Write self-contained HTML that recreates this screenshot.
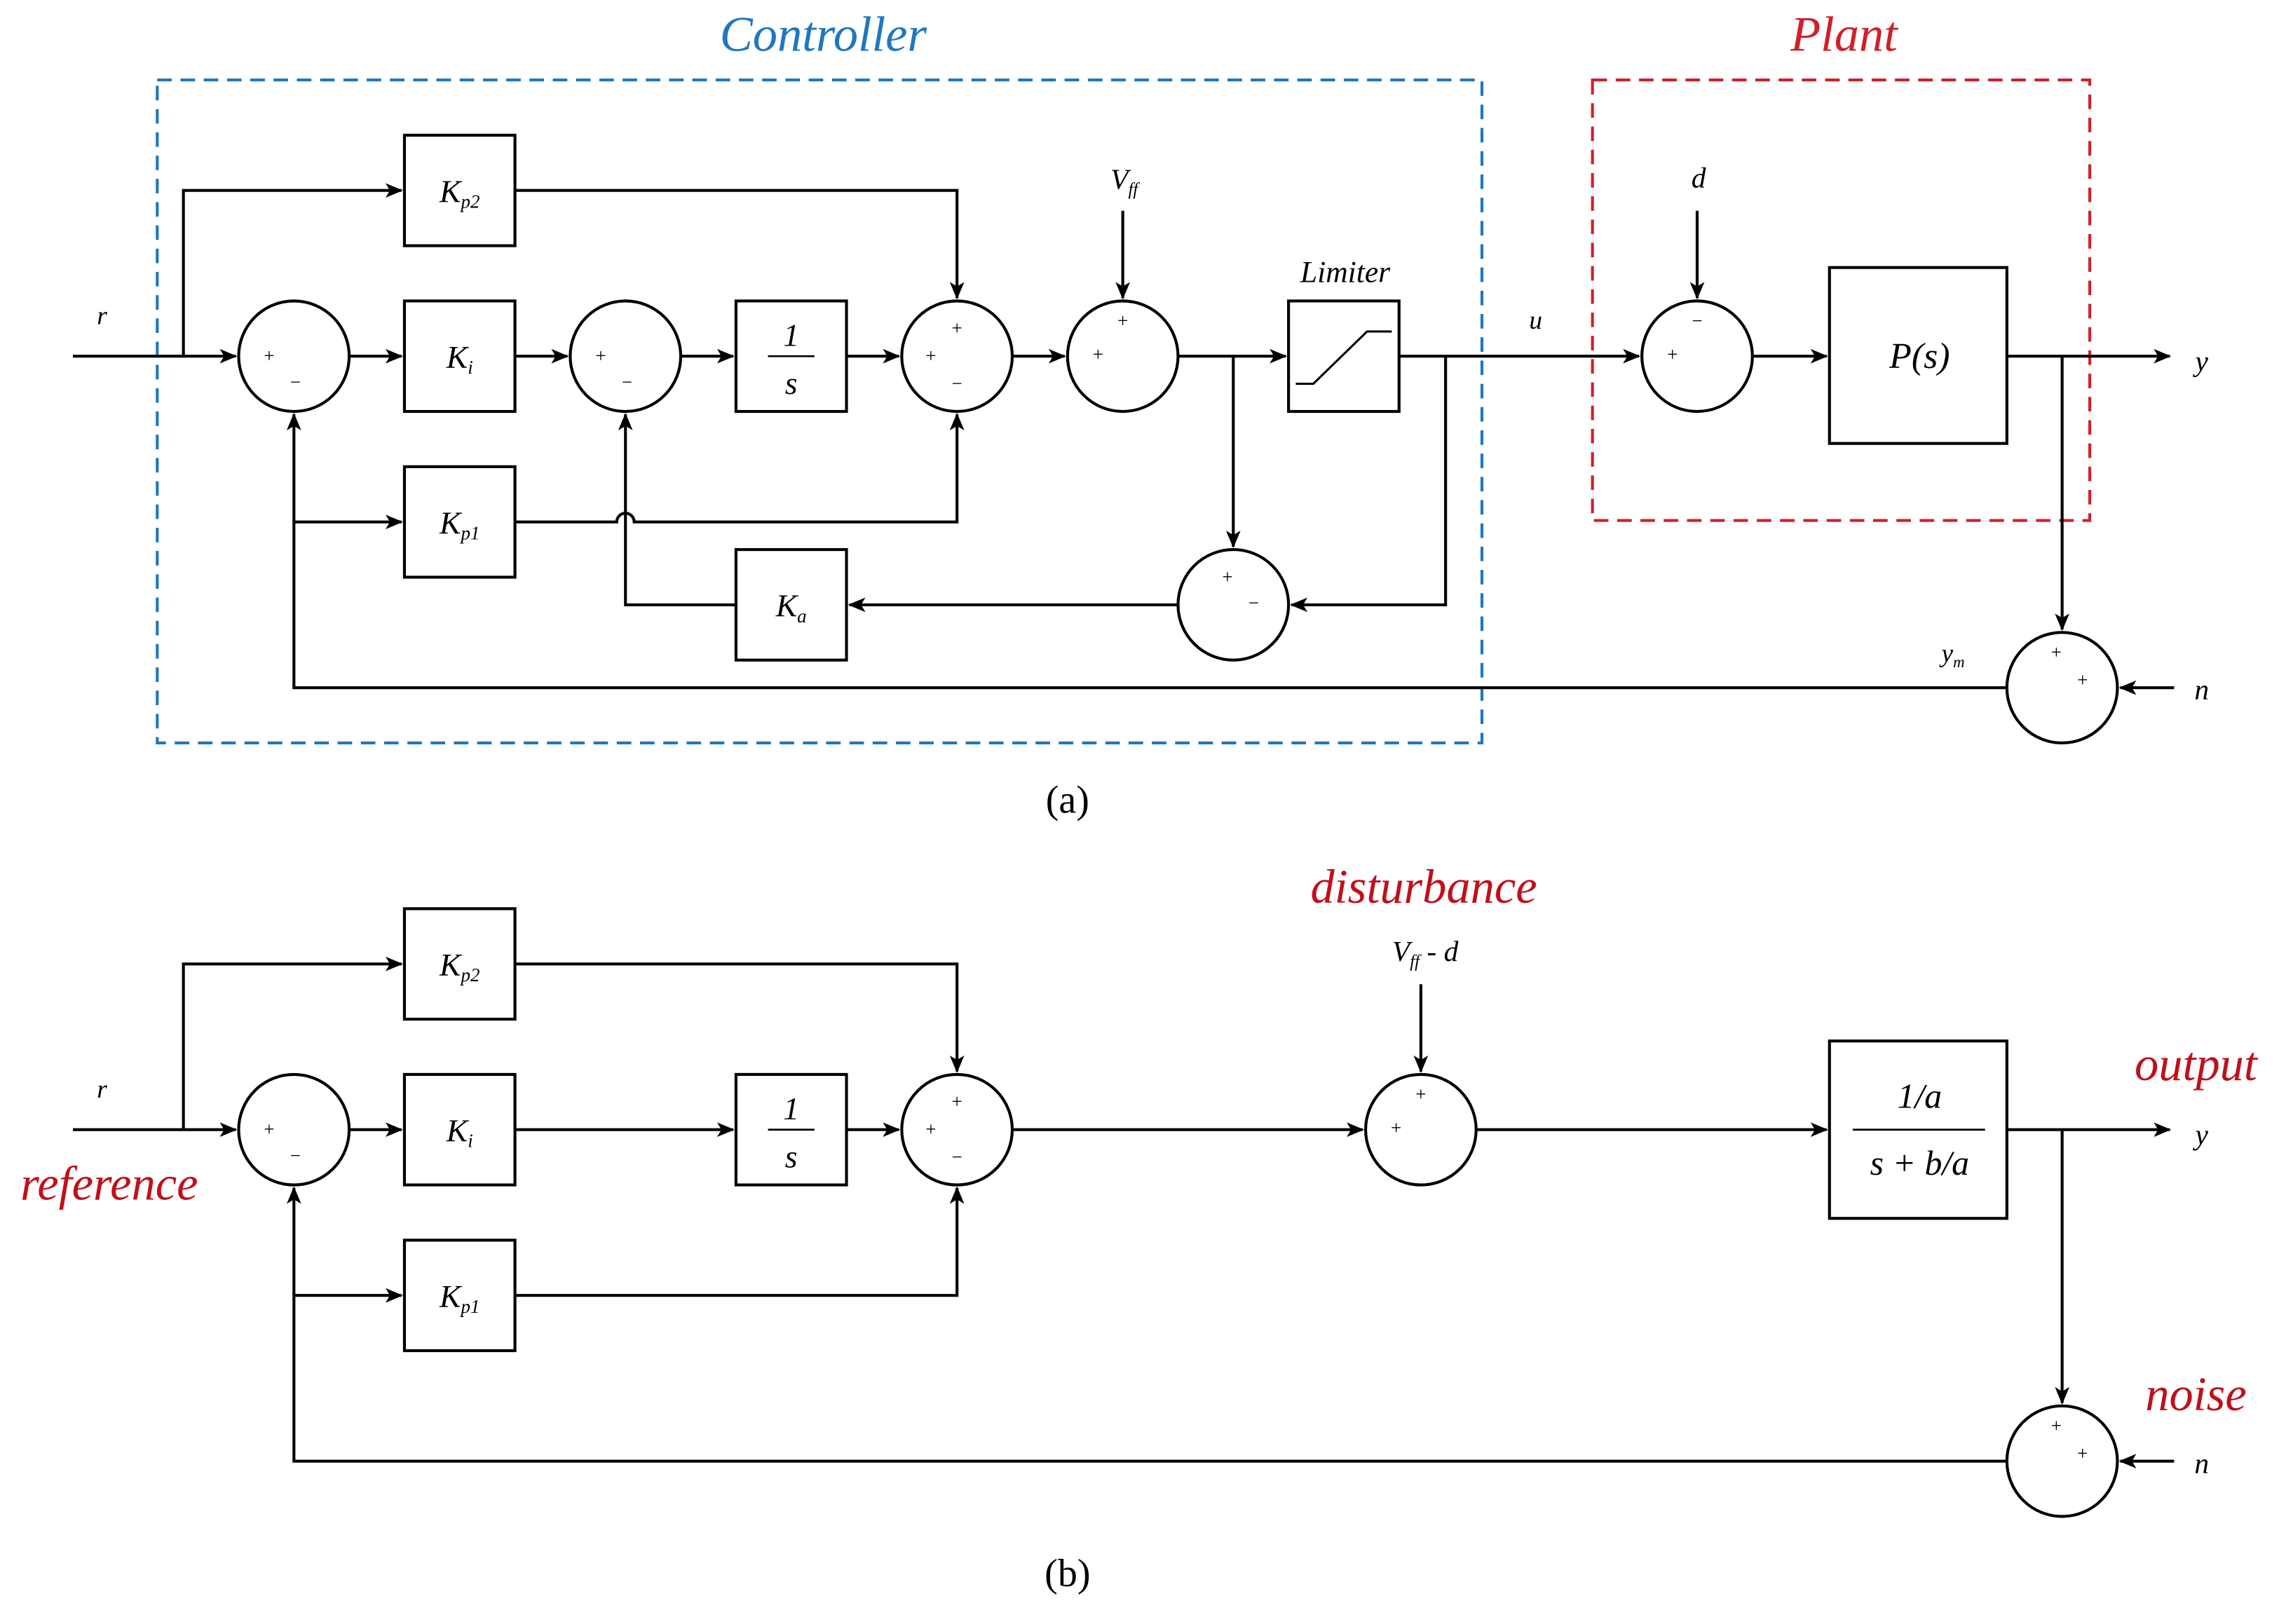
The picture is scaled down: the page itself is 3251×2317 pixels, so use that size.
<!DOCTYPE html>
<html><head><meta charset="utf-8"><style>
html,body{margin:0;padding:0;background:#fff}
svg{display:block}
text{font-family:"Liberation Serif",serif;fill:#000}
.it{font-style:italic}
</style></head><body>
<svg width="3251" height="2317" viewBox="0 0 1567 1117" xmlns="http://www.w3.org/2000/svg">
<defs>
<marker id="a" viewBox="0 0 12 10" refX="11" refY="5" markerWidth="12" markerHeight="10" markerUnits="userSpaceOnUse" orient="auto">
<path d="M0,0 L12,5 L0,10 L3,5 Z" fill="#000"/></marker>
</defs>
<g fill="none" stroke="#000" stroke-width="2">
<!-- (a) -->
<rect x="108" y="55" width="911" height="456" stroke="#1f77c0" stroke-dasharray="10,6"/>
<rect x="1095" y="55" width="342" height="303" stroke="#d0202a" stroke-dasharray="10,6"/>
<rect x="278" y="93" width="76" height="76"/>
<rect x="278" y="207" width="76" height="76"/>
<rect x="506" y="207" width="76" height="76"/>
<rect x="886" y="207" width="76" height="76"/>
<rect x="278" y="321" width="76" height="76"/>
<rect x="506" y="378" width="76" height="76"/>
<rect x="1258" y="184" width="122" height="121"/>
<circle cx="202" cy="245" r="38"/>
<circle cx="430" cy="245" r="38"/>
<circle cx="658" cy="245" r="38"/>
<circle cx="772" cy="245" r="38"/>
<circle cx="848" cy="416" r="38"/>
<circle cx="1167" cy="245" r="38"/>
<circle cx="1418" cy="473" r="38"/>
<path d="M891,264 H903 L940,228 H957" stroke-width="1.5"/>
<path d="M50,245 H162" marker-end="url(#a)"/>
<path d="M126,245 V131 H276" marker-end="url(#a)"/>
<path d="M240,245 H276" marker-end="url(#a)"/>
<path d="M354,245 H390" marker-end="url(#a)"/>
<path d="M468,245 H504" marker-end="url(#a)"/>
<path d="M582,245 H618" marker-end="url(#a)"/>
<path d="M696,245 H732" marker-end="url(#a)"/>
<path d="M810,245 H884" marker-end="url(#a)"/>
<path d="M848,245 V376" marker-end="url(#a)"/>
<path d="M962,245 H1127" marker-end="url(#a)"/>
<path d="M994,245 V416 H888" marker-end="url(#a)"/>
<path d="M810,416 H584" marker-end="url(#a)"/>
<path d="M506,416 H430 V285" marker-end="url(#a)"/>
<path d="M354,131 H658 V205" marker-end="url(#a)"/>
<path d="M354,359 H424 A6,6 0 0 1 436,359 H658 V285" marker-end="url(#a)"/>
<path d="M202,359 H276" marker-end="url(#a)"/>
<path d="M772,145 V205" marker-end="url(#a)"/>
<path d="M1167,145 V205" marker-end="url(#a)"/>
<path d="M1205,245 H1256" marker-end="url(#a)"/>
<path d="M1380,245 H1492" marker-end="url(#a)"/>
<path d="M1418,245 V433" marker-end="url(#a)"/>
<path d="M1495,473 H1458" marker-end="url(#a)"/>
<path d="M1380,473 H202 V285" marker-end="url(#a)"/>
<!-- (b) -->
<rect x="278" y="625" width="76" height="76"/>
<rect x="278" y="739" width="76" height="76"/>
<rect x="506" y="739" width="76" height="76"/>
<rect x="278" y="853" width="76" height="76"/>
<rect x="1258" y="716" width="122" height="122"/>
<circle cx="202" cy="777" r="38"/>
<circle cx="658" cy="777" r="38"/>
<circle cx="977" cy="777" r="38"/>
<circle cx="1418" cy="1005" r="38"/>
<path d="M50,777 H162" marker-end="url(#a)"/>
<path d="M126,777 V663 H276" marker-end="url(#a)"/>
<path d="M240,777 H276" marker-end="url(#a)"/>
<path d="M354,777 H504" marker-end="url(#a)"/>
<path d="M582,777 H618" marker-end="url(#a)"/>
<path d="M696,777 H937" marker-end="url(#a)"/>
<path d="M1015,777 H1256" marker-end="url(#a)"/>
<path d="M354,663 H658 V737" marker-end="url(#a)"/>
<path d="M354,891 H658 V817" marker-end="url(#a)"/>
<path d="M202,891 H276" marker-end="url(#a)"/>
<path d="M977,677 V737" marker-end="url(#a)"/>
<path d="M1380,777 H1492" marker-end="url(#a)"/>
<path d="M1418,777 V965" marker-end="url(#a)"/>
<path d="M1495,1005 H1458" marker-end="url(#a)"/>
<path d="M1380,1005 H202 V817" marker-end="url(#a)"/>
<path d="M528,245 H560 M528,777 H560 M1274,777 H1365" stroke-width="1.3"/>
</g>
<g font-size="13" text-anchor="middle">
<text x="185" y="249">+</text><text x="203" y="267">−</text>
<text x="413" y="249">+</text><text x="431" y="267">−</text>
<text x="658" y="230">+</text><text x="640" y="249">+</text><text x="658" y="268">−</text>
<text x="772" y="225">+</text><text x="755" y="248">+</text>
<text x="844" y="401">+</text><text x="862" y="419">−</text>
<text x="1167" y="225">−</text><text x="1150" y="248">+</text>
<text x="1414" y="453">+</text><text x="1432" y="472">+</text>
<text x="185" y="781">+</text><text x="203" y="799">−</text>
<text x="658" y="762">+</text><text x="640" y="781">+</text><text x="658" y="800">−</text>
<text x="977" y="757">+</text><text x="960" y="780">+</text>
<text x="1414" y="985">+</text><text x="1432" y="1004">+</text>
</g>
<g font-size="22" text-anchor="middle" class="it">
<text x="566" y="35" style="fill:#1f77c0" font-size="34">Controller</text>
<text x="1268" y="35" style="fill:#d0202a" font-size="34">Plant</text>
<text x="70" y="223" font-size="18">r</text>
<text x="316" y="139">K<tspan font-size="13" dy="4">p2</tspan></text>
<text x="316" y="253">K<tspan font-size="13" dy="4">i</tspan></text>
<text x="316" y="367">K<tspan font-size="13" dy="4">p1</tspan></text>
<text x="544" y="424">K<tspan font-size="13" dy="4">a</tspan></text>
<text x="544" y="238">1</text><text x="544" y="271">s</text>
<text x="773" y="130" font-size="20">V<tspan font-size="12" dy="4">ff</tspan></text>
<text x="925" y="194" font-size="21">Limiter</text>
<text x="1056" y="226" font-size="18">u</text>
<text x="1168" y="129" font-size="20">d</text>
<text x="1320" y="253" font-size="25">P(s)</text>
<text x="1514" y="255" font-size="20">y</text>
<text x="1343" y="455" font-size="18">y<tspan font-size="11" dy="4">m</tspan></text>
<text x="1514" y="481" font-size="20">n</text>
<text x="70" y="755" font-size="18">r</text>
<text x="316" y="671">K<tspan font-size="13" dy="4">p2</tspan></text>
<text x="316" y="785">K<tspan font-size="13" dy="4">i</tspan></text>
<text x="316" y="899">K<tspan font-size="13" dy="4">p1</tspan></text>
<text x="544" y="770">1</text><text x="544" y="803">s</text>
<text x="1320" y="762" font-size="24">1/a</text>
<text x="1320" y="808" font-size="24">s + b/a</text>
<text x="980" y="661" font-size="20">V<tspan font-size="12" dy="4">ff</tspan><tspan dy="-4"> - d</tspan></text>
<text x="979" y="621" font-size="33" style="fill:#c0101a">disturbance</text>
<text x="1510" y="743" font-size="33" style="fill:#c0101a">output</text>
<text x="75" y="825" font-size="33" style="fill:#c0101a">reference</text>
<text x="1510" y="970" font-size="33" style="fill:#c0101a">noise</text>
<text x="1514" y="787" font-size="20">y</text>
<text x="1514" y="1013" font-size="20">n</text>
</g>
<g font-size="27" text-anchor="middle">
<text x="734" y="559">(a)</text>
<text x="734" y="1091">(b)</text>
</g>
</svg>
</body></html>
